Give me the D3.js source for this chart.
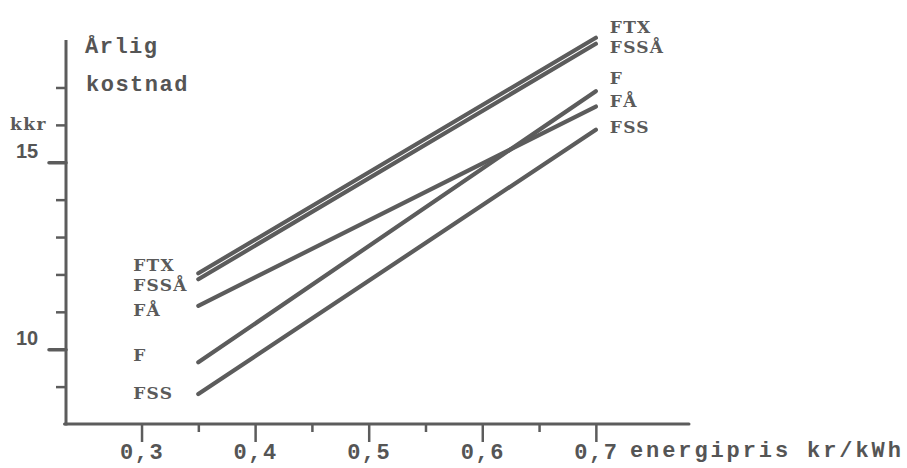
<!DOCTYPE html>
<html>
<head>
<meta charset="utf-8">
<script src="https://cdn.jsdelivr.net/npm/d3@7"></script>
<style>
  html, body { margin: 0; padding: 0; background: #ffffff; }
  svg { display: block; }
  .mono { font-family: "Liberation Mono", monospace; font-weight: bold; fill: #555; }
  .serif { font-family: "DejaVu Serif", serif; font-weight: bold; fill: #5a5a5a; }
  .num { font-family: "Liberation Sans", Arial, sans-serif; font-weight: bold; fill: #555; }
</style>
</head>
<body>
<svg id="chart" width="907" height="468"></svg>
<script>
// ---- data ----
const energyPrices = [0.35, 0.7];                 // kr/kWh, start and end of each line
const seriesNames  = ["FTX", "FSSÅ", "FÅ", "F", "FSS"];
const valuesFTX  = [12.03, 18.33];
const valuesFSSA = [11.87, 18.17];
const valuesFA   = [11.16, 16.49];
const valuesF    = [9.65, 16.90];
const valuesFSS  = [8.80, 15.87];
const seriesValues = [valuesFTX, valuesFSSA, valuesFA, valuesF, valuesFSS];
const xMajorTicks = [0.3, 0.4, 0.5, 0.6, 0.7];
const xMinorTicks = [0.35, 0.45, 0.55, 0.65];
const xTickLabels = ["0,3", "0,4", "0,5", "0,6", "0,7"];
const yMajorTicks = [10, 15];
const yMinorTicks = [9, 11, 12, 13, 14, 16, 17];
const yTickLabels = ["10", "15"];

// ---- layout (label offsets, px) ----
const leftLabelDy  = [-7, 7, 5, -6, 0];
const rightLabelY  = { "FTX": -10, "FSSÅ": 4, "F": -12, "FÅ": -5, "FSS": -2 };

const svg = d3.select("#chart");
const x = d3.scaleLinear().domain([0.2335, 0.782]).range([66, 689]);
const y = d3.scaleLinear().domain([8, 18.27]).range([424, 40]);
const ink = "#5c5c5c";

// axes lines
svg.append("line").attr("x1", x(0.2335)).attr("x2", x(0.2335))
  .attr("y1", y(18.27)).attr("y2", y(8) + 1.5)
  .attr("stroke", ink).attr("stroke-width", 3);
svg.append("line").attr("x1", x(0.2335) - 1.5).attr("x2", x(0.782))
  .attr("y1", y(8)).attr("y2", y(8))
  .attr("stroke", ink).attr("stroke-width", 3).attr("stroke-linecap", "round");

// x ticks
const xAxisMajor = d3.axisBottom(x).tickValues(xMajorTicks).tickSize(18)
  .tickFormat((d, i) => xTickLabels[i]);
const gx = svg.append("g").attr("transform", `translate(0,${y(8)})`).call(xAxisMajor);
gx.select(".domain").remove();
gx.selectAll(".tick line").attr("stroke", ink).attr("stroke-width", 2.5);
gx.selectAll(".tick text").attr("class", "mono").style("font-size", "22px")
  .style("letter-spacing", "1.5px").attr("fill", "#555").attr("y", 35).attr("dy", 0);
const xAxisMinor = d3.axisBottom(x).tickValues(xMinorTicks).tickSize(8).tickFormat("");
const gxm = svg.append("g").attr("transform", `translate(0,${y(8)})`).call(xAxisMinor);
gxm.select(".domain").remove();
gxm.selectAll(".tick line").attr("stroke", ink).attr("stroke-width", 2.5);

// y ticks
const yAxisMajor = d3.axisLeft(y).tickValues(yMajorTicks).tickSize(17).tickFormat("");
const gy = svg.append("g").attr("transform", `translate(${x(0.2335)},0)`).call(yAxisMajor);
gy.select(".domain").remove();
gy.selectAll(".tick line").attr("stroke", ink).attr("stroke-width", 3.5).attr("stroke-linecap", "round");
const yAxisMinor = d3.axisLeft(y).tickValues(yMinorTicks).tickSize(10).tickFormat("");
const gym = svg.append("g").attr("transform", `translate(${x(0.2335)},0)`).call(yAxisMinor);
gym.select(".domain").remove();
gym.selectAll(".tick line").attr("stroke", ink).attr("stroke-width", 2.5);

// y tick labels (above the tick)
svg.selectAll("text.ylab").data(yMajorTicks).enter().append("text")
  .attr("class", "num").attr("x", 16).attr("y", d => y(d) - 4)
  .style("font-size", "20px").text((d, i) => yTickLabels[i]);

// unit "kkr"
svg.append("text").attr("class", "serif").attr("x", 10).attr("y", y(16) + 5)
  .style("font-size", "17px").style("letter-spacing", "1.5px").text("kkr");

// axis titles
svg.append("text").attr("class", "mono").attr("x", 85).attr("y", 53)
  .style("font-size", "22px").style("letter-spacing", "1.5px").text("Årlig");
svg.append("text").attr("class", "mono").attr("x", 86).attr("y", 91)
  .style("font-size", "22px").style("letter-spacing", "1.5px").text("kostnad");
svg.append("text").attr("class", "mono").attr("x", 630).attr("y", 457)
  .style("font-size", "22px").style("letter-spacing", "2.9px").text("energipris kr/kWh");

// lines
const line = d3.line().x((d, i) => x(energyPrices[i])).y(d => y(d));
svg.selectAll("path.series").data(seriesValues).enter().append("path")
  .attr("class", "series").attr("d", d => line(d))
  .attr("fill", "none").attr("stroke", ink).attr("stroke-width", 4.2)
  .attr("stroke-linecap", "round");

// labels left
svg.selectAll("text.left").data(seriesNames).enter().append("text")
  .attr("class", "serif").attr("x", x(energyPrices[0]) - 65)
  .attr("y", (d, i) => y(seriesValues[i][0]) + 5 + leftLabelDy[i])
  .style("font-size", "17px").style("letter-spacing", "1.2px").text(d => d);

// labels right
svg.selectAll("text.right").data(seriesNames).enter().append("text")
  .attr("class", "serif").attr("x", x(energyPrices[1]) + 14)
  .attr("y", (d, i) => y(seriesValues[i][1]) + 5 + rightLabelY[d])
  .style("font-size", "17px").style("letter-spacing", "1.2px").text(d => d);
</script>
</body>
</html>
